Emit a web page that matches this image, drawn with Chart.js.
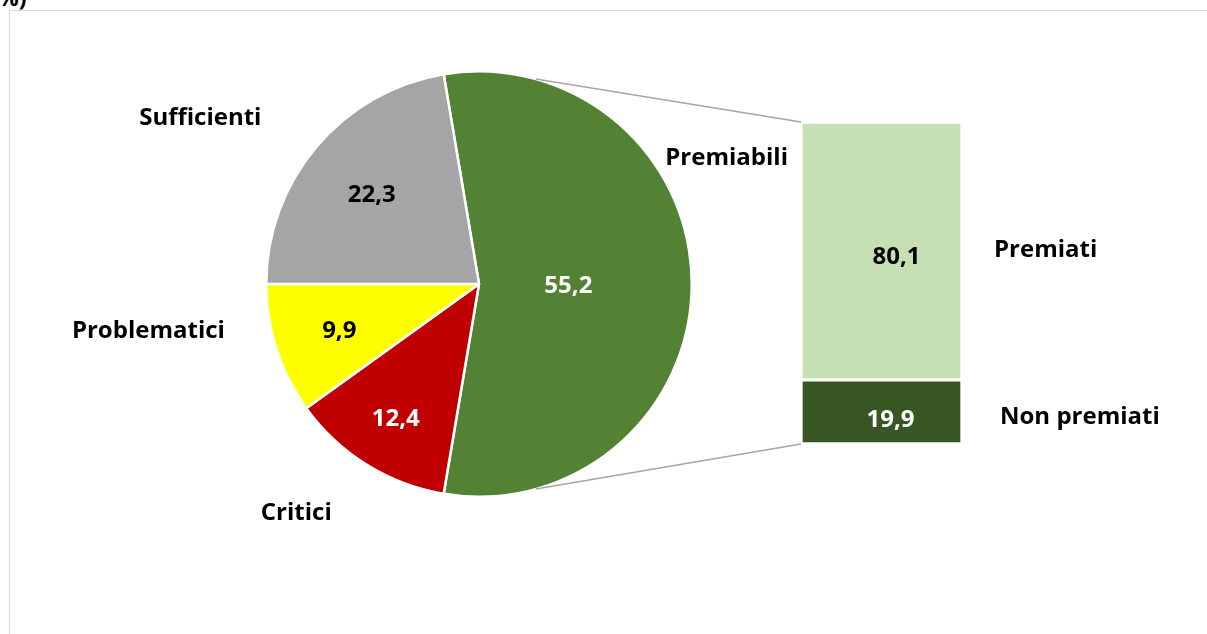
<!DOCTYPE html>
<html lang="it">
<head>
<meta charset="utf-8">
<script src="https://cdn.jsdelivr.net/npm/chart.js@4.4.0/dist/chart.umd.min.js"></script>
<style>
html, body { margin: 0; padding: 0; background: #fff; overflow: hidden; }
#wrap { position: relative; width: 1207px; height: 634px; font-family: 'Open Sans', sans-serif; }
#frame { position: absolute; left: 9px; top: 10px; width: 1400px; height: 800px; border: 1.5px solid #d9d9d9; box-sizing: border-box; }
#title { position: absolute; left: -2px; top: -19px; font-weight: bold; font-size: 23px; color: #000; }
canvas { position: absolute; left: 0; top: 0; }
</style>
</head>
<body>
<div id="wrap">
  <div id="frame"></div>
  <div id="title">%)</div>
  <canvas id="pie" width="1207" height="634"></canvas>
  <canvas id="bar" width="1207" height="634"></canvas>
</div>
<script>
// dati della torta
const pieLabels = ['Premiabili', 'Critici', 'Problematici', 'Sufficienti'];
const pieValues = [55.2, 12.4, 9.9, 22.3];
const pieColors = ['#548235', '#c00000', '#ffff00', '#a5a5a5'];

// dettaglio dei premiabili (barra)
const barLabels = ['Premiati', 'Non premiati'];
const barValues = [80.1, 19.9];
const barColors = ['#c5e0b4', '#375623'];

const FONT = 'bold 24px "Open Sans", sans-serif';
const fmt = v => v.toFixed(1).replace('.', ',');

const total = pieValues.reduce((a, b) => a + b, 0);
// la fetta dei premiabili e' centrata sull'asse orizzontale, verso la barra
const rotation = 90 - (pieValues[0] / total) * 360 / 2;

const pieText = {
    id: 'pieText',
    afterDatasetsDraw(chart, args, opts) {
        const ctx = chart.ctx;
        const arcs = chart.getDatasetMeta(0).data;
        ctx.save();
        ctx.font = FONT;
        ctx.textAlign = 'center';
        ctx.textBaseline = 'middle';
        arcs.forEach((arc, i) => {
            const p = arc.getProps(['x', 'y', 'startAngle', 'endAngle', 'outerRadius'], true);
            const mid = (p.startAngle + p.endAngle) / 2;
            const r = p.outerRadius * opts.valueRadius[i];
            ctx.fillStyle = opts.valueColors[i];
            ctx.fillText(fmt(pieValues[i]), p.x + Math.cos(mid) * r, p.y + Math.sin(mid) * r + 2);
            const off = opts.namePos[i];
            ctx.fillStyle = '#000';
            ctx.fillText(pieLabels[i], p.x + off[0] * p.outerRadius, p.y + off[1] * p.outerRadius + 2);
        });
        ctx.restore();
    }
};

const pieChart = new Chart(document.getElementById('pie'), {
    type: 'pie',
    data: {
        labels: pieLabels,
        datasets: [{
            data: pieValues,
            backgroundColor: pieColors,
            borderColor: '#ffffff',
            borderWidth: 2.5
        }]
    },
    options: {
        responsive: false,
        animation: false,
        rotation: rotation,
        layout: { padding: { left: 265, right: 514, top: 70, bottom: 136 } },
        plugins: {
            legend: { display: false },
            tooltip: { enabled: false },
            pieText: {
                valueRadius: [0.42, 0.74, 0.69, 0.66],
                valueColors: ['#ffffff', '#ffffff', '#000000', '#000000'],
                namePos: [[1.164, -0.601], [-0.859, 1.066], [-1.554, 0.211], [-1.31, -0.789]]
            }
        }
    },
    plugins: [pieText]
});

const barText = {
    id: 'barText',
    beforeDatasetsDraw(chart, args, opts) {
        // linee di collegamento torta -> barra
        const arc = pieChart.getDatasetMeta(0).data[0];
        const a = arc.getProps(['x', 'y', 'outerRadius'], true);
        const ang = opts.joinAngle * Math.PI / 180;
        const top = chart.getDatasetMeta(1).data[0];
        const bot = chart.getDatasetMeta(0).data[0];
        const ctx = chart.ctx;
        ctx.save();
        ctx.strokeStyle = '#a6a6a6';
        ctx.lineWidth = 1.5;
        ctx.beginPath();
        ctx.moveTo(a.x + a.outerRadius * Math.sin(ang), a.y - a.outerRadius * Math.cos(ang));
        ctx.lineTo(top.x - top.width / 2, top.y);
        ctx.moveTo(a.x + a.outerRadius * Math.sin(ang), a.y + a.outerRadius * Math.cos(ang));
        ctx.lineTo(bot.x - bot.width / 2, bot.base);
        ctx.stroke();
        ctx.restore();
    },
    afterDatasetsDraw(chart, args, opts) {
        const ctx = chart.ctx;
        ctx.save();
        ctx.font = FONT;
        ctx.textBaseline = 'middle';
        chart.data.datasets.forEach((ds, di) => {
            const el = chart.getDatasetMeta(di).data[0];
            const cy = (el.y + el.base) / 2;
            ctx.textAlign = 'center';
            ctx.fillStyle = opts.valueColors[di];
            ctx.fillText(fmt(ds.data[0]), el.x + opts.valueDx[di], cy + opts.valueDy[di]);
            ctx.textAlign = 'left';
            ctx.fillStyle = '#000';
            ctx.fillText(ds.label, el.x + el.width / 2 + opts.nameDx[di], cy + opts.nameDy[di]);
        });
        ctx.restore();
    }
};

// la barra impila dal basso: prima i non premiati
const order = [1, 0];
new Chart(document.getElementById('bar'), {
    type: 'bar',
    data: {
        labels: ['Premiabili'],
        datasets: order.map(i => ({
            label: barLabels[i],
            data: [barValues[i]],
            backgroundColor: barColors[i],
            borderColor: '#ffffff',
            borderWidth: 2,
            borderSkipped: false,
            barPercentage: 1,
            categoryPercentage: 1
        }))
    },
    options: {
        responsive: false,
        animation: false,
        layout: { padding: { left: 801, right: 245, top: 122, bottom: 190 } },
        scales: {
            x: { stacked: true, display: false },
            y: { stacked: true, display: false, min: 0, max: 100 }
        },
        plugins: {
            legend: { display: false },
            tooltip: { enabled: false },
            barText: {
                joinAngle: 15.5,
                valueColors: ['#ffffff', '#000000'],
                valueDx: [9, 15],
                valueDy: [8, 6],
                nameDx: [38, 32],
                nameDy: [5, -1]
            }
        }
    },
    plugins: [barText]
});
</script>
</body>
</html>
